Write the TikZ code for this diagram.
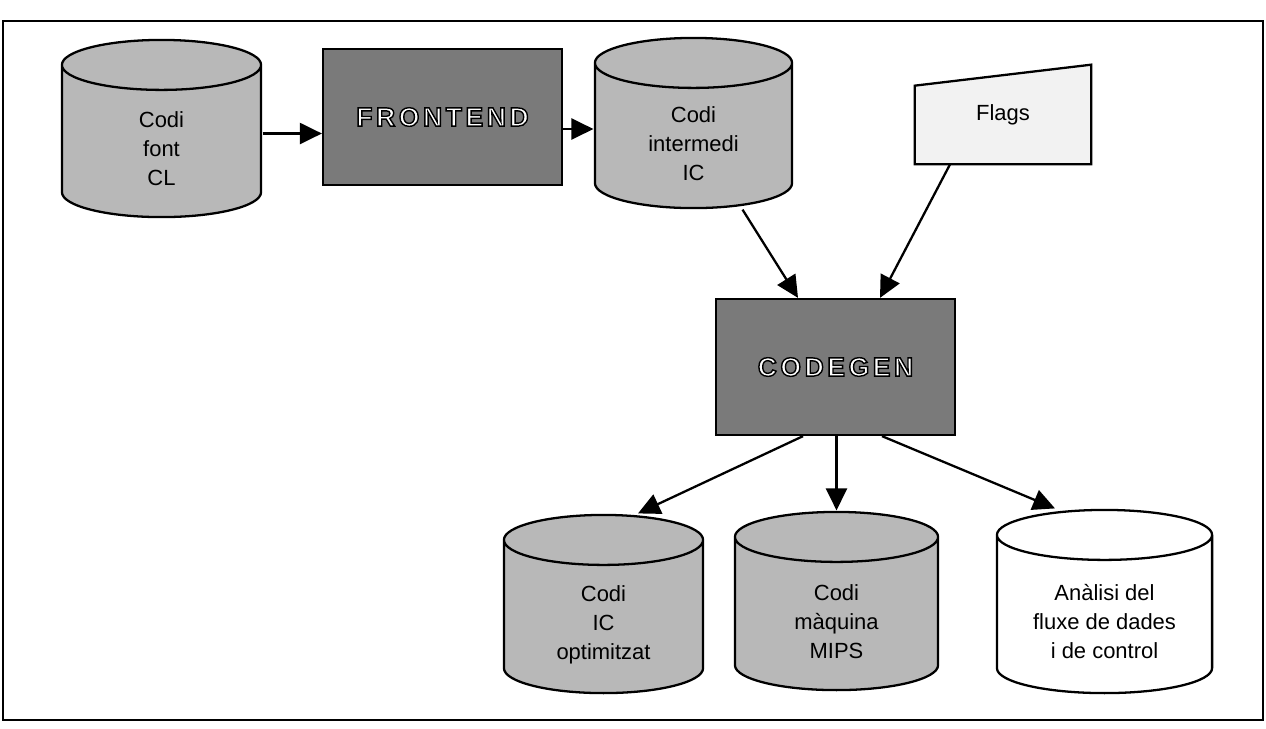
\documentclass[tikz,border=0pt]{standalone}
\usepackage{fontspec}
\setmainfont{Liberation Sans}
\usetikzlibrary{arrows.meta}
\usetikzlibrary{backgrounds}
\usetikzlibrary{calc}
\usetikzlibrary{positioning}
% white letters with a black outline
\newcommand{\outlined}[1]{\special{pdf:literal direct 2 Tr 0.8 w 0 G}#1\special{pdf:literal direct 0 Tr}}

\begin{document}
\begin{tikzpicture}
[every node/.style={font=\fontsize{12.5}{16.5}\selectfont,align=center},x=0.02cm,y=-0.02cm,
  flow/.style = {-{Triangle[length=0.44cm,width=0.42cm]},line width=1.3pt},
  db/.style = {rectangle,inner sep=0pt,execute at begin node={\rule{0pt}{2.3cm}},
        path picture={
          \path (path picture bounding box.north west) ++(0.65pt,-0.65pt) coordinate (dbnw)
                (path picture bounding box.south east) ++(-0.65pt,0.65pt) coordinate (dbse);
          \draw[line width=1.3pt,fill=#1] let \p1=(dbnw),\p2=(dbse),\n1={(\x2-\x1)/2} in
            (\x1,\y1-0.5cm) -- (\x1,\y2+0.5cm)
            arc[start angle=180,end angle=360,x radius=\n1,y radius=0.5cm]
            -- (\x2,\y1-0.5cm)
            arc[start angle=0,end angle=180,x radius=\n1,y radius=0.5cm] -- cycle
            (\x1,\y1-0.5cm) arc[start angle=180,end angle=360,x radius=\n1,y radius=0.5cm];
        }},
  db/.default = black!28,
  stage/.style = {rectangle,draw,line width=1.3pt,fill=black!52,text=white,
        minimum width=4.78cm,minimum height=2.72cm,
        font=\fontsize{15}{16}\selectfont\bfseries\addfontfeatures{LetterSpace=14}},
  flagbox/.style = {rectangle,minimum width=3.52cm,minimum height=1.98cm}]
\useasboundingbox (0,0) rectangle (1266,728);
\draw[line width=1.3pt] (3,21) rectangle (1263,720);

\node[db,minimum width=4.03cm,minimum height=3.59cm] (CL) at (161.5,128.5) {Codi\\font\\CL};
\node[stage] (FRONTEND) at (442.5,117) {\outlined{FRONTEND}};
\node[db,minimum width=3.99cm,minimum height=3.45cm] (IC) at (693.5,123) {Codi\\intermedi\\IC};
\node[flagbox] (flags) at (1003,114.5) {Flags};
\node[stage] (CODEGEN) at (835.5,367) {\outlined{CODEGEN}};

\node[db,minimum width=4.03cm,minimum height=3.61cm] (ICopt) at (603.5,604) {Codi\\IC\\optimitzat};
\node[db,minimum width=4.11cm,minimum height=3.61cm] (MIPS) at (836.5,601) {Codi\\m\`aquina\\MIPS};
\node[db=white,minimum width=4.35cm,minimum height=3.71cm] (flux) at (1104.5,601.5)
  {An\`alisi del\\fluxe de dades\\i de control};

\begin{scope}[on background layer]
\draw[line width=1.3pt,fill=black!5] (flags.south west) -- (flags.south east)
  -- (flags.north east) -- ([yshift=-0.42cm]flags.north west) -- cycle;
\end{scope}

\draw[flow] ([yshift=-0.1cm]CL.east) -- ([yshift=-0.1cm]CL.east -| FRONTEND.west);
\draw[flow] ([yshift=-0.24cm]FRONTEND.east) -- ([yshift=-0.24cm]FRONTEND.east -| IC.west);
\draw[flow] ([xshift=0.98cm]IC.south) -- ([xshift=-0.75cm]CODEGEN.north);
\draw[flow] ([xshift=-1.06cm]flags.south) -- ([xshift=0.89cm]CODEGEN.north);

\draw[flow] ([xshift=-0.65cm]CODEGEN.south) -- ([xshift=0.69cm]ICopt.north);
\draw[flow] (MIPS.north |- CODEGEN.south) -- (MIPS.north);
\draw[flow] ([xshift=0.93cm]CODEGEN.south) -- ([xshift=-0.99cm]flux.north);
\end{tikzpicture}
\end{document}
